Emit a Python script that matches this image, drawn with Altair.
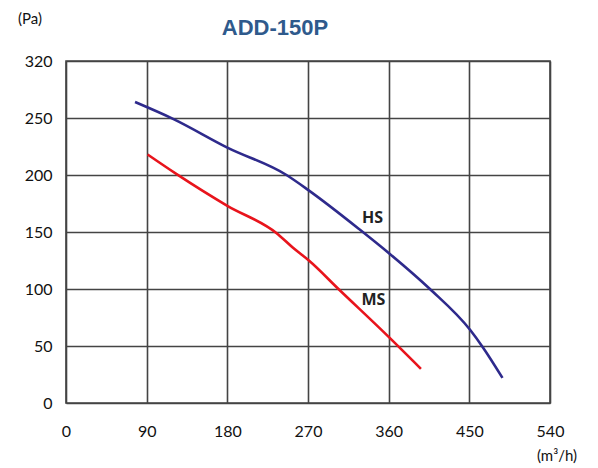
import altair as alt
import pandas as pd

hs_x = [77, 120, 180, 246, 270, 328, 361, 406, 451, 465, 487]
hs_y = [264, 249, 224, 200, 187, 152, 131, 100, 64, 49, 22]
ms_x = [91, 123, 180, 235, 255, 271, 304, 360, 396]
ms_y = [218, 201, 173, 149, 135, 125, 100, 58, 30]
x_ticks = [0, 90, 180, 270, 360, 450, 540]
y_ticks = [0, 50, 100, 150, 200, 250, 300]
label_names = ["HS", "MS"]
label_x = [342, 343]
label_y = [162, 90]

df = pd.DataFrame(
    {"q": hs_x + ms_x, "p": hs_y + ms_y,
     "s": ["HS"] * len(hs_x) + ["MS"] * len(ms_x)}
)
lab = pd.DataFrame({"q": label_x, "p": label_y, "t": label_names})

font = "Lato"
xs = alt.Scale(domain=[0, 540], nice=False)
ys = alt.Scale(domain=[0, 300], nice=False)

lines = alt.Chart(df).mark_line(strokeWidth=2.6, interpolate="monotone").encode(
    x=alt.X("q:Q", scale=xs, title=None,
            axis=alt.Axis(values=x_ticks, grid=True, gridColor="#444", gridWidth=1.6,
                          gridOpacity=1, domain=False, ticks=False, labelFontSize=16,
                          labelFont=font, labelColor="#111", labelPadding=20,
                          labelFlush=False, labelOverlap=False)),
    y=alt.Y("p:Q", scale=ys, title=None,
            axis=alt.Axis(values=y_ticks, grid=True, gridColor="#444", gridWidth=1.6,
                          gridOpacity=1, domain=False, ticks=False, labelFontSize=16,
                          labelFont=font, labelColor="#111", labelPadding=14,
                          labelFlush=False, labelOverlap=False,
                          labelExpr="datum.value == 300 ? '320' : datum.label")),
    color=alt.Color("s:N", scale=alt.Scale(domain=["HS", "MS"], range=["#2E2A8C", "#E8141C"]),
                    legend=None),
)

labels = alt.Chart(lab).mark_text(fontSize=16, fontWeight="bold", font="Open Sans",
                                   color="#222").encode(
    x=alt.X("q:Q", scale=xs), y=alt.Y("p:Q", scale=ys), text="t:N")

title = alt.Chart(pd.DataFrame({"t": ["ADD-150P"]})).mark_text(
    fontSize=22, fontWeight="bold", font="Liberation Sans", color="#2F5A8C",
    align="center", baseline="alphabetic").encode(
    x=alt.value(209), y=alt.value(-26), text="t:N")

pa = alt.Chart(pd.DataFrame({"t": ["(Pa)"]})).mark_text(
    fontSize=15, font=font, color="#111", align="center", baseline="middle").encode(
    x=alt.value(-36), y=alt.value(-42), text="t:N")

unit = alt.Chart(pd.DataFrame({"t": ["(m³/h)"]})).mark_text(
    fontSize=15, font=font, color="#111", align="center", baseline="middle").encode(
    x=alt.value(491), y=alt.value(395), text="t:N")

chart = alt.layer(lines, labels, title, pa, unit).properties(
    width=484, height=342,
    autosize=alt.AutoSizeParams(type="none"),
    padding={"left": 58, "top": 53, "right": 40, "bottom": 62},
).configure_view(stroke="#444", strokeWidth=1.6)

chart.save("out.html", embed_options={"renderer": "svg", "actions": False})
